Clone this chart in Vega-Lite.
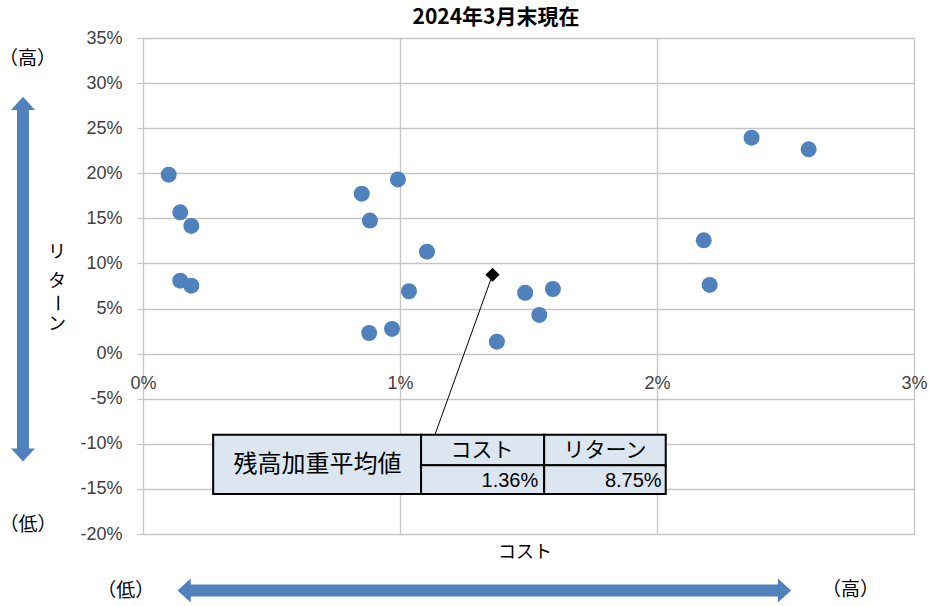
{
  "$schema": "https://vega.github.io/schema/vega-lite/v6.json",
  "width": 771,
  "height": 496,
  "autosize": {"type": "none"},
  "padding": {"left": 143, "top": 38, "right": 15, "bottom": 72},
  "background": "white",
  "config": {
    "view": {"stroke": null},
    "axis": {"labelFlush": false}
  },
  "encoding": {
    "x": {
      "field": "x", "type": "quantitative",
      "scale": {"domain": [0, 3], "nice": false, "zero": false},
      "axis": {
        "values": [0, 1, 2, 3],
        "labelExpr": "datum.value + '%'",
        "title": null,
        "domain": false,
        "ticks": false,
        "grid": true,
        "gridColor": "#c6c6c6",
        "gridWidth": 1.3,
        "labelFont": "Liberation Sans",
        "labelFontSize": 18,
        "labelColor": "#404040",
        "labelPadding": 20,
        "labelOverlap": false,
        "labelFlush": false,
        "offset": -180
      }
    },
    "y": {
      "field": "y", "type": "quantitative",
      "scale": {"domain": [-20, 35], "nice": false, "zero": false},
      "axis": {
        "values": [-20, -15, -10, -5, 0, 5, 10, 15, 20, 25, 30, 35],
        "labelExpr": "datum.value + '%'",
        "title": null,
        "domain": false,
        "ticks": true,
        "tickSize": 6,
        "tickColor": "#c6c6c6",
        "tickWidth": 1.3,
        "grid": true,
        "gridColor": "#c6c6c6",
        "gridWidth": 1.3,
        "labelFont": "Liberation Sans",
        "labelFontSize": 18,
        "labelColor": "#404040",
        "labelPadding": 15,
        "labelOverlap": false,
        "labelFlush": false
      }
    }
  },
  "layer": [
    {
      "data": {
        "values": [
          {"x": 0.10, "y": 19.85},
          {"x": 0.145, "y": 15.67},
          {"x": 0.188, "y": 14.16},
          {"x": 0.145, "y": 8.09},
          {"x": 0.188, "y": 7.54},
          {"x": 0.851, "y": 17.74},
          {"x": 0.883, "y": 14.75},
          {"x": 0.992, "y": 19.32},
          {"x": 1.105, "y": 11.31},
          {"x": 1.035, "y": 6.92},
          {"x": 0.880, "y": 2.29},
          {"x": 0.969, "y": 2.74},
          {"x": 1.377, "y": 1.33},
          {"x": 1.487, "y": 6.75},
          {"x": 1.595, "y": 7.17},
          {"x": 1.542, "y": 4.29},
          {"x": 2.182, "y": 12.56},
          {"x": 2.205, "y": 7.62},
          {"x": 2.368, "y": 23.95},
          {"x": 2.590, "y": 22.65}
        ]
      },
      "mark": {"type": "point", "filled": true, "shape": "circle", "size": 256, "color": "#4F81BD", "opacity": 1}
    },
    {
      "data": {"values": [{"x": 1.36, "y": 8.75, "x2": 1.136, "y2": -8.99}]},
      "mark": {"type": "rule", "color": "#000000", "strokeWidth": 1},
      "encoding": {
        "x2": {"field": "x2"},
        "y2": {"field": "y2"}
      }
    },
    {
      "data": {"values": [{"x": 1.36, "y": 8.75}]},
      "mark": {"type": "point", "filled": true, "shape": "diamond", "size": 200, "color": "#000000", "opacity": 1}
    },
    {
      "data": {
        "values": [
          {"x": 0.273, "x2": 1.082, "y": -9.0, "y2": -15.57},
          {"x": 1.082, "x2": 1.561, "y": -9.0, "y2": -12.37},
          {"x": 1.561, "x2": 2.034, "y": -9.0, "y2": -12.37},
          {"x": 1.082, "x2": 1.561, "y": -12.37, "y2": -15.57},
          {"x": 1.561, "x2": 2.034, "y": -12.37, "y2": -15.57}
        ]
      },
      "mark": {"type": "rect", "fill": "#DCE6F1", "stroke": "#000000", "strokeWidth": 2},
      "encoding": {
        "x2": {"field": "x2"},
        "y2": {"field": "y2"}
      }
    },
    {
      "data": {"values": [{"x": 0.679, "y": -12.3, "label": "残高加重平均値"}]},
      "mark": {"type": "text", "font": "Noto Sans CJK JP", "fontSize": 24, "color": "#000000", "align": "center", "baseline": "middle"},
      "encoding": {
        "text": {"field": "label"}
      }
    },
    {
      "data": {
        "values": [
          {"x": 1.319, "y": -10.75, "label": "コスト"},
          {"x": 1.798, "y": -10.75, "label": "リターン"}
        ]
      },
      "mark": {"type": "text", "font": "Noto Sans CJK JP", "fontSize": 21, "color": "#000000", "align": "center", "baseline": "middle"},
      "encoding": {
        "text": {"field": "label"}
      }
    },
    {
      "data": {
        "values": [
          {"x": 1.538, "y": -14.1, "label": "1.36%"},
          {"x": 2.018, "y": -14.1, "label": "8.75%"}
        ]
      },
      "mark": {"type": "text", "font": "Liberation Sans", "fontSize": 20, "color": "#000000", "align": "right", "baseline": "middle"},
      "encoding": {
        "text": {"field": "label"}
      }
    },
    {
      "data": {
        "values": [
          {"x": -0.467, "y": 27.6, "x2": -0.467, "y2": -10.9},
          {"x": 0.171, "y": -26.27, "x2": 2.482, "y2": -26.27}
        ]
      },
      "mark": {"type": "rule", "color": "#4F81BD", "strokeWidth": 12, "strokeCap": "butt"},
      "encoding": {
        "x2": {"field": "x2"},
        "y2": {"field": "y2"}
      }
    },
    {
      "data": {
        "values": [
          {"x": -0.467, "y": 27.75, "dir": "up"},
          {"x": -0.467, "y": -11.24, "dir": "down"},
          {"x": 0.160, "y": -26.27, "dir": "left"},
          {"x": 2.496, "y": -26.27, "dir": "right"}
        ]
      },
      "mark": {"type": "point", "filled": true, "size": 576, "color": "#4F81BD", "opacity": 1},
      "encoding": {
        "shape": {
          "field": "dir", "type": "nominal", "legend": null,
          "scale": {
            "domain": ["up", "down", "left", "right"],
            "range": ["M0,-0.55L1,0.55L-1,0.55Z", "M0,0.55L1,-0.55L-1,-0.55Z", "M-0.55,0L0.55,-1L0.55,1Z", "M0.55,0L-0.55,-1L-0.55,1Z"]
          }
        }
      }
    },
    {
      "data": {
        "values": [
          {"x": -0.449, "y": 32.63, "label": "（高）"},
          {"x": -0.447, "y": -19.0, "label": "（低）"},
          {"x": -0.067, "y": -26.29, "label": "（低）"},
          {"x": 2.753, "y": -26.2, "label": "（高）"}
        ]
      },
      "mark": {"type": "text", "font": "Noto Sans CJK JP", "fontSize": 19, "color": "#000000", "align": "center", "baseline": "middle"},
      "encoding": {
        "text": {"field": "label"}
      }
    },
    {
      "data": {
        "values": [
          {"x": 1.486, "y": -22.08, "label": "コスト"},
          {"x": -0.335, "y": 11.13, "label": "リ"},
          {"x": -0.335, "y": 7.97, "label": "タ"},
          {"x": -0.335, "y": 3.17, "label": "ン"}
        ]
      },
      "mark": {"type": "text", "font": "Noto Sans CJK JP", "fontSize": 18, "color": "#000000", "align": "center", "baseline": "middle"},
      "encoding": {
        "text": {"field": "label"}
      }
    },
    {
      "data": {"values": [{"x": -0.337, "y": 5.61, "label": "ー"}]},
      "mark": {"type": "text", "font": "Noto Sans CJK JP", "fontSize": 18, "color": "#000000", "align": "center", "baseline": "middle", "angle": 90},
      "encoding": {
        "text": {"field": "label"}
      }
    },
    {
      "data": {"values": [{"x": 1.3735, "y": 37.2, "label": "2024年3月末現在"}]},
      "mark": {"type": "text", "font": "Noto Sans CJK JP", "fontSize": 21, "fontWeight": "bold", "color": "#000000", "align": "center", "baseline": "middle"},
      "encoding": {
        "text": {"field": "label"}
      }
    }
  ]
}
